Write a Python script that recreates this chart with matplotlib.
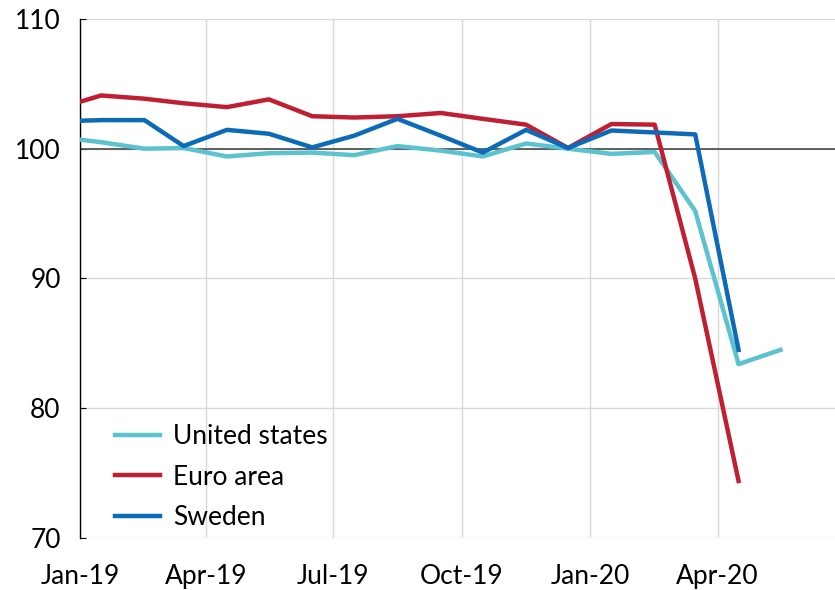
import pandas as pd
import matplotlib
matplotlib.use("Agg")
from matplotlib import pyplot as plt
import matplotlib.dates as mdates

plt.rcParams['font.family'] = ['Lato', 'DejaVu Sans']

# monthly index values, Dec 2018 - May 2020 (plotted mid-month)
months = pd.date_range("2018-12-01", "2020-05-01", freq="MS") + pd.Timedelta(days=15)

us = [100.9, 100.5, 100.0, 100.05, 99.4, 99.65, 99.7, 99.5, 100.2, 99.85,
      99.4, 100.4, 100.0, 99.6, 99.75, 95.2, 83.4, 84.5]
euro = [103.1, 104.1, 103.85, 103.5, 103.2, 103.8, 102.5, 102.4, 102.5, 102.75,
        102.3, 101.85, 100.05, 101.9, 101.85, 90.0, 74.4]
sweden = [102.1, 102.2, 102.2, 100.2, 101.45, 101.15, 100.1, 101.0, 102.3, 101.0,
          99.7, 101.45, 100.05, 101.4, 101.25, 101.1, 84.5]

labels = ["United states", "Euro area", "Sweden"]
colors = ["#5bc2d0", "#c01f33", "#0b6bb8"]

fig = plt.figure(figsize=(8.35, 5.9), dpi=100)
ax = fig.add_axes([0.096, 0.088, 0.904, 0.88])

ax.axhline(100, color="#555555", lw=1.3, zorder=2)
ax.plot(months[:len(us)], us, color=colors[0], lw=3.2, label=labels[0], zorder=3)
ax.plot(months[:len(euro)], euro, color=colors[1], lw=3.2, label=labels[1], zorder=3)
ax.plot(months[:len(sweden)], sweden, color=colors[2], lw=3.2, label=labels[2], zorder=3)

ax.set_ylim(70, 110)
ax.set_yticks([70, 80, 90, 100, 110])
ax.set_xlim(pd.Timestamp("2019-01-01"), pd.Timestamp("2020-06-24"))
ax.xaxis.set_major_locator(mdates.MonthLocator(bymonth=[1, 4, 7, 10]))
ax.xaxis.set_major_formatter(mdates.DateFormatter("%b-%y"))

ax.grid(True, color="#d9d9d9", lw=1)
ax.set_axisbelow(True)
for s in ["top", "right", "bottom"]:
    ax.spines[s].set_visible(False)
ax.spines["left"].set_color("black")
ax.spines["left"].set_linewidth(1)
ax.tick_params(axis="y", direction="in", length=4, labelsize=19, pad=14)
ax.tick_params(axis="x", length=0, labelsize=19, pad=19)

ax.legend(loc="lower left", bbox_to_anchor=(0.015, -0.03), frameon=False, fontsize=19,
          handlelength=1.7, handletextpad=0.5, labelspacing=0.58)

fig.savefig("out.png", dpi=100)
